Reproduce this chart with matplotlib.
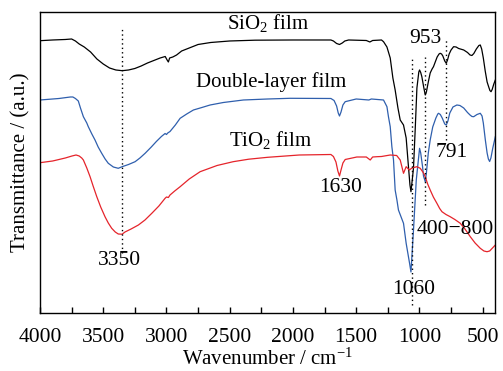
import matplotlib
matplotlib.use("Agg")
import matplotlib.pyplot as plt

plt.rcParams['font.family'] = 'Liberation Serif'
plt.rcParams['mathtext.fontset'] = 'custom'
plt.rcParams['mathtext.rm'] = 'Liberation Serif'
plt.rcParams['mathtext.it'] = 'Liberation Serif:italic'

# spectra (wavenumber in cm-1, transmittance in a.u.)
sio2_wn = [4000, 3900, 3800, 3750, 3720, 3690, 3650, 3600, 3550, 3500, 3450, 3400,
           3350, 3300, 3250, 3200, 3150, 3100, 3050, 3010, 2995, 2985, 2975, 2950,
           2920, 2880, 2820, 2750, 2650, 2500, 2300, 2000, 1700, 1680, 1655, 1632,
           1610, 1590, 1560, 1420, 1392, 1370, 1300, 1284, 1257, 1231, 1210, 1192,
           1170, 1152, 1126, 1105, 1086, 1075, 1067, 1057, 1047, 1033, 1020, 1005,
           999, 990, 981, 965, 954, 945, 930, 915, 900, 889, 875, 860, 845, 836,
           825, 815, 800, 788, 778, 765, 750, 730, 710, 690, 650, 620, 600, 585,
           570, 550, 530, 519, 508, 495, 480, 465, 453, 443, 434, 425, 412, 400]
sio2_t = [272.3, 273, 273.5, 274, 272, 269, 266, 261, 254, 249, 245, 243,
          242.3, 243, 244.5, 247, 250, 252.5, 255, 256.5, 253, 251, 255, 256,
          258, 262, 265, 268.5, 270.5, 272, 272.8, 273, 273, 272, 269.5, 268.5,
          270, 272, 273, 272.5, 271, 272.5, 273, 271.3, 266, 255, 235, 223,
          205, 193, 188, 175, 145, 128, 121.3, 133, 145, 185, 225, 241,
          243, 240.5, 236.3, 225, 218, 221, 231, 240, 244, 246.3, 251, 256, 259, 259.7,
          259, 257, 252, 249.7, 253, 259, 263, 266.3, 266, 264.5, 263, 260.5, 258, 257.5,
          259.5, 264, 267.5, 268, 264, 255, 242, 231, 226.3, 222.5, 221.3, 223.5, 229, 233]

double_wn = [4000, 3850, 3760, 3740, 3720, 3697, 3680, 3657, 3630, 3618, 3590, 3565,
             3540, 3512, 3485, 3460, 3420, 3381, 3351, 3300, 3248, 3210, 3169, 3120,
             3080, 3040, 3011, 3000, 2990, 2972, 2930, 2892, 2840, 2787, 2720, 2655,
             2550, 2392, 2200, 2022, 1700, 1675, 1655, 1642, 1632, 1620, 1605, 1587,
             1500, 1400, 1380, 1284, 1257, 1245, 1231, 1218, 1205, 1192, 1178, 1166,
             1126, 1105, 1078, 1067, 1047, 1025, 999, 990, 975, 968, 954, 945, 930,
             915, 895, 870, 855, 849, 835, 820, 800, 788, 775, 760, 735, 704, 680,
             650, 620, 600, 585, 571, 545, 519, 505, 495, 479, 465, 455, 445, 435,
             420, 400]
double_t = [213, 214.5, 216, 216, 214.5, 212, 205, 196.3, 190, 186.3, 179, 173,
            166, 159.7, 154, 149.7, 146, 144.7, 146.3, 148.5, 151.3, 155, 159.7, 166,
            171.5, 176.5, 179.5, 178.5, 180, 181.5, 188, 194.7, 199, 203, 205.5, 208,
            210.5, 213, 214, 214.7, 214.5, 212.5, 207, 200, 197, 201, 208, 211.3,
            214, 213, 214, 213, 206.3, 196.3, 186.3, 166.3, 153, 123, 113, 103,
            89.7, 69.7, 49.7, 41, 83, 133, 164.7, 160, 146, 137, 131.3, 140, 160,
            173, 186, 195, 199, 199.7, 198.5, 195, 189, 188, 192, 200, 206, 208, 207.5,
            205, 200.5, 198, 196.5, 196.3, 198.5, 199.7, 197, 190, 173, 160, 154, 151.5, 155,
            165, 176.3]

tio2_wn = [4000, 3900, 3800, 3747, 3715, 3690, 3670, 3657, 3630, 3604, 3580, 3551,
           3520, 3486, 3460, 3433, 3405, 3381, 3351, 3328, 3280, 3222, 3170, 3116,
           3060, 3011, 3000, 2985, 2972, 2935, 2892, 2820, 2734, 2600, 2473, 2350,
           2200, 1950, 1700, 1680, 1660, 1645, 1632, 1620, 1605, 1587, 1495, 1420,
           1389, 1370, 1336, 1300, 1231, 1180, 1152, 1126, 1105, 1080, 1059, 1020,
           994, 970, 954, 935, 915, 890, 862, 840, 822, 790, 757, 720, 677, 640,
           598, 560, 519, 490, 466, 445, 430, 400]
tio2_t = [150.3, 152, 155, 157, 158, 157, 155, 153, 145, 136.3, 127, 116.3,
          106, 96.3, 90, 84.7, 81, 79, 78.8, 81, 84, 88, 93, 99.7,
          107, 114.7, 116, 115.5, 118, 122, 126.3, 134, 141.3, 147.5, 151.3, 153.8,
          155.7, 158, 158.5, 156.5, 151, 142, 137, 143, 150, 153.5, 156, 156,
          153, 156, 156.3, 156.5, 158, 157.5, 153, 139.7, 146.3, 143, 145, 146.3,
          144.7, 140.5, 136.3, 129, 123, 116, 109.7, 104.5, 101.3, 98.5, 96.3, 93.5, 89.7, 84,
          76.3, 70, 64.7, 62, 61.3, 62, 64, 68]

# marked bands: position, top and bottom of the dotted guide
band_pos = [3350, 1060, 953, 791]
band_top = [285, 256, 256, 275]
band_bot = [60, 8, 108, 173]

peak_labels = ['3350', '1630', '1060', '953', '791', '400\u2212800']
peak_x = [3375, 1621, 1049, 957, 743, 719]
peak_y = [52.3, 125.3, 24, 274, 160.3, 84]

curve_labels = ['SiO$_{\\mathrm{2}}$ film', 'Double-layer film', 'TiO$_{\\mathrm{2}}$ film']
curve_lab_x = [2196, 2175, 2175]
curve_lab_y = [289.7, 231.3, 173]

fig = plt.figure(figsize=(5.03, 3.71), dpi=100)
ax = fig.add_axes([0.0795, 0.1563, 0.9045, 0.8122])

ax.plot(sio2_wn, sio2_t, color='black', lw=0.9)
ax.plot(double_wn, double_t, color='#2f5fad', lw=0.9)
ax.plot(tio2_wn, tio2_t, color='#e5242b', lw=0.9)

for p, t, b in zip(band_pos, band_top, band_bot):
    ax.plot([p, p], [b, t], color='black', lw=1.0, linestyle=(0, (1, 2.2)))

for s, x, y in zip(peak_labels, peak_x, peak_y):
    ax.text(x, y, s, ha='center', va='center', fontsize=15.5)
for s, x, y in zip(curve_labels, curve_lab_x, curve_lab_y):
    ax.text(x, y, s, ha='center', va='center', fontsize=15)

ax.set_xlim(4000, 403)
ax.set_ylim(0, 301.3)
ax.set_xticks([4000, 3500, 3000, 2500, 2000, 1500, 1000, 500])
ax.set_xticks(range(750, 4000, 500), minor=True)
ax.tick_params(axis='x', which='both', direction='in', length=4, width=1,
               labelsize=15.5, pad=11)
ax.set_yticks([])
ax.set_xlabel('Wavenumber / cm$^{\\mathrm{\u22121}}$', fontsize=15, labelpad=1)
ax.set_ylabel('Transmittance / (a.u.)', fontsize=15, labelpad=7)
for sp in ax.spines.values():
    sp.set_linewidth(1.0)

fig.savefig('out.png', dpi=100)
